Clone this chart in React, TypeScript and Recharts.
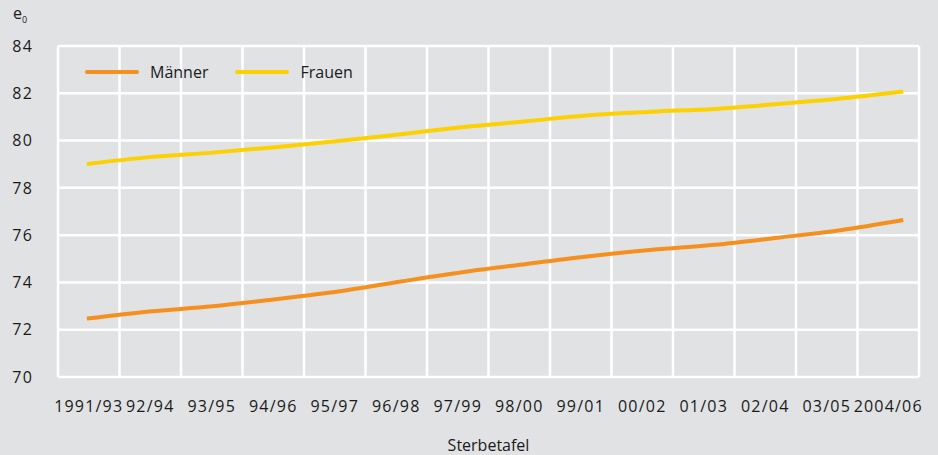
import React from 'react';
import { LineChart, Line, XAxis, YAxis, CartesianGrid } from 'recharts';

const periods = [
  '1991/93', '92/94', '93/95', '94/96', '95/97', '96/98', '97/99',
  '98/00', '99/01', '00/02', '01/03', '02/04', '03/05', '2004/06',
];
const maenner = [72.47, 72.77, 72.99, 73.29, 73.62, 74.04, 74.44, 74.78, 75.11, 75.38, 75.59, 75.89, 76.21, 76.64];
const frauen = [79.01, 79.30, 79.49, 79.72, 79.98, 80.27, 80.57, 80.82, 81.07, 81.22, 81.34, 81.55, 81.78, 82.08];
const yTicks = [70, 72, 74, 76, 78, 80, 82, 84];

const data = periods.map((p, i) => ({ i, period: p, m: maenner[i], f: frauen[i] }));

// x domain: the lines do not start/end on the column centres in the original
const X_LO = -0.46;
const X_HI = 13.25;
const COLS = periods.length;
const colCentre = (k: number) => X_LO + ((X_HI - X_LO) * (k + 0.5)) / COLS;
const labelTicks = periods.map((_, k) => colCentre(k));
const labelFor = (v: number) => periods[Math.round(((v - X_LO) / (X_HI - X_LO)) * COLS - 0.5)];

const FONT = '"Open Sans", sans-serif';
const BG = '#e1e2e4';
const ORANGE = '#f5901f';
const YELLOW = '#fdd000';

const series = [
  { key: 'm', name: 'Männer', color: ORANGE },
  { key: 'f', name: 'Frauen', color: YELLOW },
];

export default function App() {
  return (
    <div style={{ position: 'absolute', left: 0, top: 0, width: 938, height: 455, background: BG }}>
      <div style={{ position: 'absolute', left: 13, top: 2, fontFamily: FONT, fontSize: 16, color: '#1a1a1a' }}>
        e<span style={{ fontSize: 9, position: 'relative', top: 4 }}>0</span>
      </div>
      <LineChart width={938} height={455} data={data} margin={{ top: 46, right: 19, left: 0, bottom: 0 }}>
        <CartesianGrid
          stroke="#ffffff"
          strokeWidth={2.5}
          verticalCoordinatesGenerator={({ offset }: any) =>
            Array.from({ length: COLS + 1 }, (_, k) => offset.left + (k * offset.width) / COLS)
          }
        />
        <XAxis
          dataKey="i"
          type="number"
          domain={[X_LO, X_HI]}
          allowDataOverflow
          ticks={labelTicks}
          interval={0}
          tickFormatter={labelFor}
          axisLine={false}
          tickLine={false}
          tickMargin={18}
          height={78}
          tick={{ fontFamily: FONT, fontSize: 16, fill: '#1a1a1a', letterSpacing: 1.2 }}
          label={{ value: 'Sterbetafel', position: 'insideBottom', offset: 4, fontFamily: FONT, fontSize: 16, fill: '#1a1a1a' }}
        />
        <YAxis
          domain={[70, 84]}
          ticks={yTicks}
          width={58}
          axisLine={false}
          tickLine={false}
          tickMargin={19}
          tick={{ fontFamily: FONT, fontSize: 16, fill: '#1a1a1a', letterSpacing: 1.2 }}
        />
        {series.map((s) => (
          <Line
            key={s.key}
            type="monotone"
            dataKey={s.key}
            name={s.name}
            stroke={s.color}
            strokeWidth={4}
            dot={false}
            activeDot={false}
            isAnimationActive={false}
          />
        ))}
      </LineChart>
      <div
        style={{
          position: 'absolute', left: 85, top: 60, display: 'flex',
          fontFamily: FONT, fontSize: 16, color: '#1a1a1a', lineHeight: '24px',
        }}
      >
        {series.map((s) => (
          <div key={s.key} style={{ display: 'flex', alignItems: 'center', marginRight: 27 }}>
            <svg width={54} height={6} style={{ marginRight: 11 }}>
              <line x1={2} y1={3} x2={52} y2={3} stroke={s.color} strokeWidth={4} strokeLinecap="round" />
            </svg>
            <span>{s.name}</span>
          </div>
        ))}
      </div>
    </div>
  );
}
